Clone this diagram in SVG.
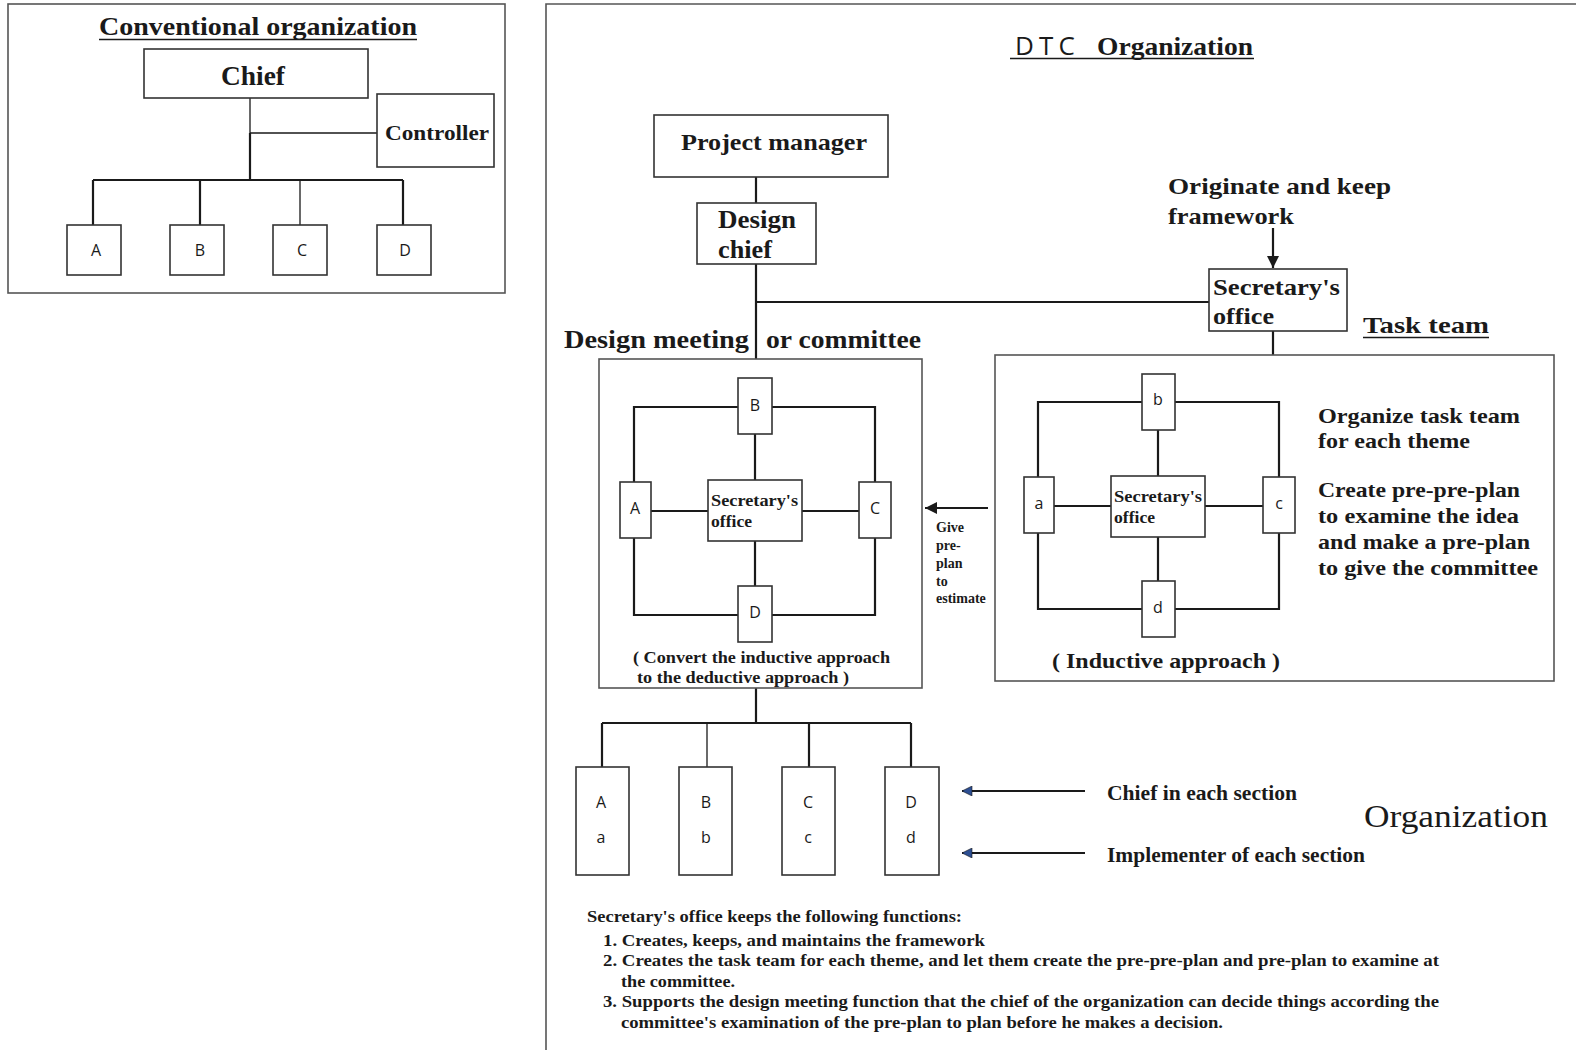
<svg xmlns="http://www.w3.org/2000/svg" width="1576" height="1050" viewBox="0 0 1576 1050">
<defs>
<style>
.frame{fill:none;stroke:#555;stroke-width:1.6}
.box{fill:#fff;stroke:#333;stroke-width:1.6}
.ln{fill:none;stroke:#1a1a1a;stroke-width:2.2}
.ln1{fill:none;stroke:#1a1a1a;stroke-width:1.3}
.sf{font-family:"Liberation Serif","Times New Roman",serif;font-weight:bold;fill:#1a1a1a}
.sfr{font-family:"Liberation Serif","Times New Roman",serif;font-weight:normal;fill:#1a1a1a}
.ss{font-family:"Open Sans","DejaVu Sans",sans-serif;fill:#1a1a1a;text-anchor:middle}
</style>
<marker id="ahB" viewBox="0 0 10 10" refX="10" refY="5" markerWidth="12" markerHeight="12" markerUnits="userSpaceOnUse" orient="auto">
<path d="M0,0 L10,5 L0,10 Z" fill="#1a1a1a"/>
</marker>
<marker id="ahBlue" viewBox="0 0 10 10" refX="10" refY="5" markerWidth="12" markerHeight="10" markerUnits="userSpaceOnUse" orient="auto">
<path d="M0,0 L10,5 L0,10 Z" fill="#2d4f93" stroke="#1a1a1a" stroke-width="0.6"/>
</marker>
</defs>
<rect width="1576" height="1050" fill="#fff"/>

<!-- Conventional organization -->
<g id="conventional">
<rect class="frame" x="8" y="4" width="497" height="289"/>
<text class="sf" x="99" y="35" font-size="26" textLength="318" lengthAdjust="spacingAndGlyphs">Conventional organization</text>
<line x1="99" y1="39.5" x2="417" y2="39.5" stroke="#1a1a1a" stroke-width="1.6"/>
</g>
<g id="conv-connectors">
<path class="ln1" d="M250,98 V133 H377 M300,180 V225"/>
<path class="ln" d="M250,133 V180 M93,180 H403 M93,180 V225 M200,180 V225 M403,180 V225"/>
</g>
<g id="chief"><rect class="box" x="144" y="49" width="224" height="49"/><text class="sf" x="221" y="85" font-size="27" textLength="64" lengthAdjust="spacingAndGlyphs">Chief</text></g>
<g id="controller"><rect class="box" x="377" y="94" width="117" height="73"/><text class="sf" x="385" y="140" font-size="22" textLength="104" lengthAdjust="spacingAndGlyphs">Controller</text></g>
<g id="convA"><rect class="box" x="67" y="225" width="54" height="50"/><text class="ss" x="96" y="256" font-size="16">A</text></g>
<g id="convB"><rect class="box" x="170" y="225" width="54" height="50"/><text class="ss" x="200" y="256" font-size="16">B</text></g>
<g id="convC"><rect class="box" x="273" y="225" width="54" height="50"/><text class="ss" x="302" y="256" font-size="16">C</text></g>
<g id="convD"><rect class="box" x="377" y="225" width="54" height="50"/><text class="ss" x="405" y="256" font-size="16">D</text></g>

<!-- DTC organization frame -->
<g id="dtc">
<path class="frame" d="M546,1052 V4 H1580"/>
<text x="1015" y="55" font-size="26"><tspan font-family="'Open Sans','DejaVu Sans',sans-serif" fill="#1a1a1a" textLength="60" lengthAdjust="spacing">D T C</tspan><tspan class="sf" x="1097" textLength="156" lengthAdjust="spacingAndGlyphs">Organization</tspan></text>
<line x1="1010" y1="58.5" x2="1254" y2="58.5" stroke="#1a1a1a" stroke-width="1.6"/>
</g>

<!-- connectors -->
<g id="connectors">
<path class="ln" d="M756,177 V203 M756,264 V359 M756,302 H1209 M1273,331 V355"/>
<line class="ln" x1="1273" y1="228" x2="1273" y2="268" marker-end="url(#ahB)"/>
<line class="ln" x1="988" y1="508" x2="925" y2="508" marker-end="url(#ahB)"/>
<!-- design meeting inner -->
<path class="ln" d="M634,482 V407 H738 M772,407 H875 V482 M634,538 V615 H738 M772,615 H875 V538 M651,511 H708 M802,511 H859 M755,434 V480 M755,541 V586"/>
<!-- task team inner -->
<path class="ln" d="M1038,477 V402 H1142 M1175,402 H1279 V477 M1038,533 V609 H1142 M1175,609 H1279 V533 M1054,506 H1111 M1205,506 H1263 M1158,430 V476 M1158,537 V581"/>
<!-- bottom tree -->
<path class="ln" d="M756,688 V723 M602,723 H911 M602,723 V767 M809,723 V767 M911,723 V767"/>
<path class="ln1" d="M707,723 V767"/>
<line class="ln" x1="1085" y1="791" x2="962" y2="791" marker-end="url(#ahBlue)"/>
<line class="ln" x1="1085" y1="853" x2="962" y2="853" marker-end="url(#ahBlue)"/>
</g>

<g id="project-manager"><rect class="box" x="654" y="115" width="234" height="62"/><text class="sf" x="681" y="150" font-size="24" textLength="186" lengthAdjust="spacingAndGlyphs">Project manager</text></g>
<g id="design-chief"><rect class="box" x="697" y="203" width="119" height="61"/><text class="sf" x="718" y="228" font-size="25" textLength="78" lengthAdjust="spacingAndGlyphs">Design</text><text class="sf" x="718" y="258" font-size="25" textLength="54" lengthAdjust="spacingAndGlyphs">chief</text></g>
<g id="originate"><text class="sf" x="1168" y="194" font-size="24" textLength="223" lengthAdjust="spacingAndGlyphs">Originate and keep</text><text class="sf" x="1168" y="224" font-size="24" textLength="126" lengthAdjust="spacingAndGlyphs">framework</text></g>
<g id="secretary-top"><rect class="box" x="1209" y="269" width="138" height="62"/><text class="sf" x="1213" y="295" font-size="24" textLength="127" lengthAdjust="spacingAndGlyphs">Secretary's</text><text class="sf" x="1213" y="324" font-size="24" textLength="61" lengthAdjust="spacingAndGlyphs">office</text></g>
<g id="task-team-label"><text class="sf" x="1363" y="333" font-size="24" textLength="126" lengthAdjust="spacingAndGlyphs">Task team</text><line x1="1363" y1="337.5" x2="1489" y2="337.5" stroke="#1a1a1a" stroke-width="1.6"/></g>
<g id="design-meeting-label"><text class="sf" x="564" y="348" font-size="25" textLength="185" lengthAdjust="spacingAndGlyphs">Design meeting</text><text class="sf" x="766" y="348" font-size="25" textLength="155" lengthAdjust="spacingAndGlyphs">or committee</text></g>

<!-- Design meeting box -->
<g id="design-meeting">
<rect class="frame" x="599" y="359" width="323" height="329"/>
<text class="sf" x="633" y="663" font-size="16" textLength="257" lengthAdjust="spacingAndGlyphs">( Convert the inductive approach</text>
<text class="sf" x="637" y="683" font-size="16" textLength="212" lengthAdjust="spacingAndGlyphs">to the deductive approach )</text>
</g>
<g id="dmB"><rect class="box" x="738" y="378" width="34" height="56"/><text class="ss" x="755" y="411" font-size="16">B</text></g>
<g id="dmA"><rect class="box" x="620" y="482" width="31" height="56"/><text class="ss" x="635" y="514" font-size="16">A</text></g>
<g id="dmC"><rect class="box" x="859" y="482" width="32" height="56"/><text class="ss" x="875" y="514" font-size="16">C</text></g>
<g id="dmD"><rect class="box" x="738" y="586" width="34" height="56"/><text class="ss" x="755" y="618" font-size="16">D</text></g>
<g id="dmSec"><rect class="box" x="708" y="480" width="94" height="61"/><text class="sf" x="711" y="506" font-size="17" textLength="87" lengthAdjust="spacingAndGlyphs">Secretary's</text><text class="sf" x="711" y="527" font-size="17" textLength="41" lengthAdjust="spacingAndGlyphs">office</text></g>
<g id="give-label">
<text class="sf" font-size="14"><tspan x="936" y="532">Give</tspan><tspan x="936" y="550">pre-</tspan><tspan x="936" y="568">plan</tspan><tspan x="936" y="586">to</tspan><tspan x="936" y="603">estimate</tspan></text>
</g>

<!-- Task team box -->
<g id="task-team">
<rect class="frame" x="995" y="355" width="559" height="326"/>
<text class="sf" x="1052" y="668" font-size="22" textLength="228" lengthAdjust="spacingAndGlyphs">( Inductive approach )</text>
<text class="sf" x="1318" y="423" font-size="22" textLength="202" lengthAdjust="spacingAndGlyphs">Organize task team</text>
<text class="sf" x="1318" y="448" font-size="22" textLength="152" lengthAdjust="spacingAndGlyphs">for each theme</text>
<text class="sf" x="1318" y="497" font-size="22" textLength="202" lengthAdjust="spacingAndGlyphs">Create pre-pre-plan</text>
<text class="sf" x="1318" y="523" font-size="22" textLength="201" lengthAdjust="spacingAndGlyphs">to examine the idea</text>
<text class="sf" x="1318" y="549" font-size="22" textLength="212" lengthAdjust="spacingAndGlyphs">and make a pre-plan</text>
<text class="sf" x="1318" y="575" font-size="22" textLength="220" lengthAdjust="spacingAndGlyphs">to give the committee</text>
</g>
<g id="ttb"><rect class="box" x="1142" y="374" width="33" height="56"/><text class="ss" x="1158" y="405" font-size="16">b</text></g>
<g id="tta"><rect class="box" x="1024" y="477" width="30" height="56"/><text class="ss" x="1039" y="509" font-size="16">a</text></g>
<g id="ttc"><rect class="box" x="1263" y="477" width="32" height="56"/><text class="ss" x="1279" y="509" font-size="16">c</text></g>
<g id="ttd"><rect class="box" x="1142" y="581" width="33" height="56"/><text class="ss" x="1158" y="613" font-size="16">d</text></g>
<g id="ttSec"><rect class="box" x="1111" y="476" width="94" height="61"/><text class="sf" x="1114" y="502" font-size="17" textLength="88" lengthAdjust="spacingAndGlyphs">Secretary's</text><text class="sf" x="1114" y="523" font-size="17" textLength="41" lengthAdjust="spacingAndGlyphs">office</text></g>

<!-- Bottom sections -->
<g id="secAa"><rect class="box" x="576" y="767" width="53" height="108"/><text class="ss" x="601" y="808" font-size="16">A</text><text class="ss" x="601" y="843" font-size="16">a</text></g>
<g id="secBb"><rect class="box" x="679" y="767" width="53" height="108"/><text class="ss" x="706" y="808" font-size="16">B</text><text class="ss" x="706" y="843" font-size="16">b</text></g>
<g id="secCc"><rect class="box" x="782" y="767" width="53" height="108"/><text class="ss" x="808" y="808" font-size="16">C</text><text class="ss" x="808" y="843" font-size="16">c</text></g>
<g id="secDd"><rect class="box" x="885" y="767" width="54" height="108"/><text class="ss" x="911" y="808" font-size="16">D</text><text class="ss" x="911" y="843" font-size="16">d</text></g>
<g id="section-labels">
<text class="sf" x="1107" y="800" font-size="20" textLength="190" lengthAdjust="spacingAndGlyphs">Chief in each section</text>
<text class="sf" x="1107" y="862" font-size="20" textLength="258" lengthAdjust="spacingAndGlyphs">Implementer of each section</text>
<text class="sfr" x="1364" y="827" font-size="31" textLength="184" lengthAdjust="spacingAndGlyphs">Organization</text>
</g>

<!-- Notes -->
<g id="notes">
<text class="sf" x="587" y="922" font-size="16" textLength="375" lengthAdjust="spacingAndGlyphs">Secretary's office keeps the following functions:</text>
<text class="sf" x="603" y="946" font-size="16" textLength="382" lengthAdjust="spacingAndGlyphs">1. Creates, keeps, and maintains the framework</text>
<text class="sf" x="603" y="966" font-size="16" textLength="836" lengthAdjust="spacingAndGlyphs">2. Creates the task team for each theme, and let them create the pre-pre-plan and pre-plan to examine at</text>
<text class="sf" x="621" y="987" font-size="16" textLength="114" lengthAdjust="spacingAndGlyphs">the committee.</text>
<text class="sf" x="603" y="1007" font-size="16" textLength="836" lengthAdjust="spacingAndGlyphs">3. Supports the design meeting function that the chief of the organization can decide things according the</text>
<text class="sf" x="621" y="1028" font-size="16" textLength="602" lengthAdjust="spacingAndGlyphs">committee's examination of the pre-plan to plan before he makes a decision.</text>
</g>
</svg>
